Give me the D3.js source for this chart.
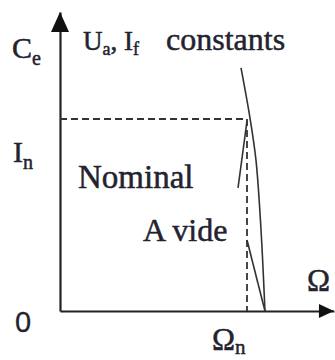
<!DOCTYPE html>
<html>
<head>
<meta charset="utf-8">
<script src="https://cdn.jsdelivr.net/npm/d3@7"></script>
<style>
  body { margin: 0; background: #fff; }
  svg { display: block; }
  text { font-family: "Liberation Serif", "Times New Roman", serif; fill: #23232f; stroke: #23232f; stroke-width: 0.5px; }
</style>
</head>
<body>
<div id="chart"></div>
<script>
// caractéristique Ce(Omega) à Ua, If constants (valeurs normalisées, Omega_n = 1, I_n = 1)
const curveOmega = [0.968, 1.016, 1.048, 1.075, 1.096];
const curveCe    = [1.266, 1.005, 0.786, 0.422, 0];
const nominalOmega = [1.0, 0.952];
const nominalCe    = [0.99, 0.641];
const videOmega = [1.0, 1.096];
const videCe    = [0.370, 0];
const omegaN = 1, cN = 1;
const axisMax = { omega: 1.465, ce: 1.557 };

const w = 335, h = 360;
const svg = d3.select("#chart").append("svg")
    .attr("width", w).attr("height", h);

const x = d3.scaleLinear().domain([0, 1]).range([60, 247]);
const y = d3.scaleLinear().domain([0, 1]).range([311, 119]);

// axes (sans graduations)
const xAxisScale = d3.scaleLinear().domain([0, axisMax.omega]).range([x(0), x(axisMax.omega)]);
const yAxisScale = d3.scaleLinear().domain([0, axisMax.ce]).range([y(0), y(axisMax.ce)]);

svg.append("g")
    .attr("transform", `translate(0,${y(0)})`)
    .call(d3.axisBottom(xAxisScale).tickValues([]).tickSizeOuter(0))
    .select(".domain").attr("stroke", "#222").attr("stroke-width", 2.2);

svg.append("g")
    .attr("transform", `translate(${x(0)},0)`)
    .call(d3.axisLeft(yAxisScale).tickValues([]).tickSizeOuter(0))
    .select(".domain").attr("stroke", "#222").attr("stroke-width", 2.2);

// flèches
const tipX = x(axisMax.omega), tipY = y(axisMax.ce);
svg.append("path")
    .attr("d", `M${tipX},${y(0)} L${tipX - 15},${y(0) - 7} L${tipX - 15},${y(0) + 7} Z`)
    .attr("fill", "#111");
svg.append("path")
    .attr("d", `M${x(0)},${tipY} L${x(0) - 9},${tipY + 20} L${x(0) + 9},${tipY + 20} Z`)
    .attr("fill", "#111");

// pointillés vers le point nominal
svg.append("path")
    .attr("d", d3.line()([[x(0), y(cN)], [x(omegaN), y(cN)], [x(omegaN), y(0)]]))
    .attr("fill", "none")
    .attr("stroke", "#333")
    .attr("stroke-width", 1.8)
    .attr("stroke-dasharray", "7,4");

// courbes
const line = d3.line().x(d => x(d[0])).y(d => y(d[1]));
const lineCurve = d3.line().x(d => x(d[0])).y(d => y(d[1])).curve(d3.curveCatmullRom);

svg.append("path")
    .attr("d", lineCurve(d3.zip(curveOmega, curveCe)))
    .attr("fill", "none").attr("stroke", "#333").attr("stroke-width", 1.6);
svg.append("path")
    .attr("d", line(d3.zip(nominalOmega, nominalCe)))
    .attr("fill", "none").attr("stroke", "#333").attr("stroke-width", 1.6);
svg.append("path")
    .attr("d", line(d3.zip(videOmega, videCe)))
    .attr("fill", "none").attr("stroke", "#333").attr("stroke-width", 1.6);

// textes
const label = (px, py, main, sub, size, dy) => {
    const t = svg.append("text").attr("x", px).attr("y", py).style("font-size", size + "px");
    t.append("tspan").text(main);
    if (sub) t.append("tspan").attr("dy", dy).style("font-size", Math.round(size * 0.68) + "px").text(sub);
    return t;
};

label(12, 58, "C", "e", 30, 7);
label(13, 162, "I", "n", 30, 7);
label(212, 350, "Ω", "n", 31, 4);
svg.append("text").attr("x", 307).attr("y", 291).style("font-size", "31px").text("Ω");
svg.append("text").attr("x", 15).attr("y", 332)
    .style("font-family", "'Liberation Sans', Arial, sans-serif")
    .style("stroke-width", "0.3px")
    .style("font-size", "29px").text("0");

const titre = svg.append("text").attr("x", 83).attr("y", 50).style("font-size", "27px");
titre.append("tspan").text("U");
titre.append("tspan").attr("dy", 5).style("font-size", "18px").text("a");
titre.append("tspan").attr("dy", -5).text(", I");
titre.append("tspan").attr("dy", 5).style("font-size", "18px").text("f");
titre.append("tspan").attr("x", 166).attr("dy", -5).style("font-size", "32px").text("constants");

svg.append("text").attr("x", 78).attr("y", 188).style("font-size", "33px").text("Nominal");
svg.append("text").attr("x", 143).attr("y", 241).style("font-size", "32px").text("A vide");
</script>
</body>
</html>
